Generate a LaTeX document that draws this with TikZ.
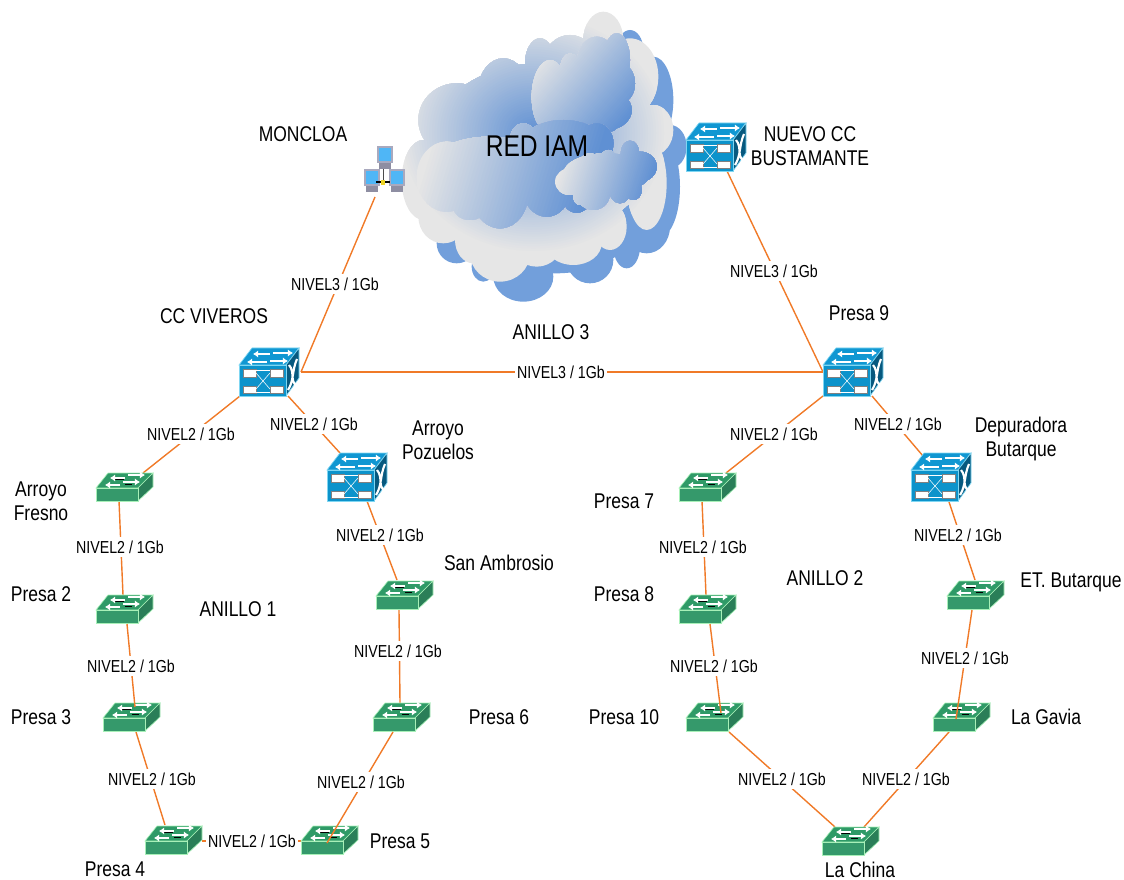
\documentclass[tikz,border=0pt]{standalone}
\usepackage{fontspec}
\setmainfont{Liberation Sans}[FakeStretch=0.82]
\usetikzlibrary{arrows.meta}
\definecolor{link}{HTML}{F07A28}
\definecolor{cshadow}{HTML}{729FDB}
\definecolor{cgray}{HTML}{E6E6E6}
\definecolor{cblue}{HTML}{5F90D3}
\definecolor{btop}{HTML}{1097D2}
\definecolor{bfront}{HTML}{0C93CB}
\definecolor{bside}{HTML}{07597F}
\definecolor{bedge}{HTML}{7FD6F2}
\definecolor{gtop}{HTML}{2F9A67}
\definecolor{gfront}{HTML}{35996B}
\definecolor{gside}{HTML}{2A7E58}
\definecolor{gedge}{HTML}{A8F0B8}
\definecolor{pcframe}{HTML}{A9A9BE}
\definecolor{pcbase}{HTML}{8E8EA2}
\definecolor{pcscreen}{HTML}{4FB6F6}
% #1,#2 = grey end of the gradient, #3 = canvas angle, #4 = length to the blue end
\newcommand{\gradbands}[4]{%
  \begin{scope}[shift={(#1,#2)},rotate=#3]
    \fill[cgray] (-1200,-1200) rectangle (1200,1200);
    \foreach \i in {1,...,50}{
      \pgfmathsetmacro{\pp}{\i*2}
      \pgfmathsetmacro{\xx}{#4/50*\i}
      \fill[cblue!\pp!cgray] (\xx,-1200) rectangle (1600,1200);
    }
  \end{scope}}
\tikzset{
  conn/.style={draw=link,line width=1.05pt},
  lbl/.style={fill=white,inner xsep=1.5pt,inner ysep=2.5pt,font=\fontsize{13}{15}\selectfont},
  devname/.style={inner sep=0pt,align=center,font=\fontsize{16}{18}\selectfont},
  anchorbox/.style={inner sep=0pt,minimum width=20pt,minimum height=20pt},
  warrow/.style={white,line width=1.5pt,-{Latex[length=3.8pt,width=5.4pt]}},
  bluesw/.pic={
    \fill[btop,draw=bedge,line width=.5pt] (-31,-7) -- (-18,-24) -- (29,-24) -- (16,-7) -- cycle;
    \fill[bside,draw=bedge,line width=.5pt] (16,-7) -- (29,-24) -- (29,6) -- (16,24) -- cycle;
    \fill[bfront,draw=bedge,line width=.5pt] (-31,-7) rectangle (16,24);
    \draw[warrow] (0,-18) -- (-17,-18);
    \draw[warrow] (3,-19) -- (23,-19);
    \draw[warrow] (-3,-10) -- (-23,-10);
    \draw[warrow] (0,-11) -- (18,-11);
    \fill[white,draw=black!50,line width=.2pt] (-27,-3) rectangle (-14,5);
    \fill[white,draw=black!50,line width=.2pt] (0,-3) rectangle (13,5);
    \fill[white,draw=black!50,line width=.2pt] (-27,14) rectangle (-14,21);
    \fill[white,draw=black!50,line width=.2pt] (0,14) rectangle (13,21);
    \draw[white,line width=.4pt] (-14,1) -- (0,17) (-14,17) -- (0,1);
    \draw[white,line width=.4pt] (-14,-2) -- (0,-2) (-14,20) -- (0,20);
    \draw[white,line width=1.6pt] (19,-7) .. controls (25,0) and (20,9) .. (26,13) (27,-13) .. controls (22,-2) and (24,9) .. (18,18);
  },
  greensw/.pic={
    \fill[gtop,draw=gedge,line width=.5pt] (-28,1) -- (-16,-14) -- (29,-14) -- (14,1) -- cycle;
    \fill[gside,draw=gedge,line width=.5pt] (14,1) -- (29,-14) -- (29,0) -- (14,14) -- cycle;
    \fill[gfront,draw=gedge,line width=.5pt] (-28,1) rectangle (14,14);
    \draw[black,line width=.4pt] (-9,-7.5) -- (0,-7.5) (1,-2.5) -- (8,-2.5);
    \draw[warrow] (1,-9) -- (-14,-9);
    \draw[warrow] (4,-12) -- (21,-12);
    \draw[warrow] (-4,-2) -- (-19,-2);
    \draw[warrow] (-1,-5) -- (16,-5);
  }
}
\begin{document}
\begin{tikzpicture}[x=0.75pt,y=-0.75pt]
\useasboundingbox (0,0) rectangle (1124,880);

% ---------- cloud (drawn in the zoomed reference grid)
\begin{scope}[x=0.25pt,y=-0.25pt,shift={(292.5pt,0pt)}]
  \fill[cshadow] \foreach \cx/\cy/\rx/\ry in {400/830/90/75,600/780/70/70,710/740/40/65,770/680/70/80,810/560/60/150,840/440/50/65,790/300/60/130,720/150/40/60,280/800/35/45,200/730/60/60,500/500/330/320} {(\cx,\cy) ellipse ({\rx} and {\ry})};
  \begin{scope}
    \clip \foreach \cx/\cy/\rx/\ry in {200/360/115/110,340/270/75/95,450/190/45/75,540/190/80/85,640/120/60/85,720/230/85/115,790/390/60/75,770/550/60/140,660/680/50/70,550/730/85/65,440/720/80/80,330/760/90/85,250/720/55/70,160/650/75/80,100/540/65/120,450/450/340/260} {(\cx,\cy) ellipse ({\rx} and {\ry})};
    \fill[cgray] (0,0) rectangle (930,930);
    \foreach \i in {0,...,49}{
      \pgfmathsetmacro{\pp}{\i*2}
      \pgfmathsetmacro{\kk}{1-\i/50}
      \fill[cblue!\pp!cgray] (430,400) ellipse ({400*\kk} and {360*\kk});
    }
  \end{scope}
  \begin{scope}
    \clip \foreach \cx/\cy/\rx/\ry in {480/290/55/110,540/210/30/50,620/190/60/80,680/180/40/80,690/250/45/60,650/330/75/60,615/370/28/38,660/360/28/35,560/300/100/90} {(\cx,\cy) ellipse ({\rx} and {\ry})};
    \gradbands{450}{170}{-41.2}{319}
  \end{scope}
  \begin{scope}
    \clip \foreach \cx/\cy/\rx/\ry in {170/530/90/105,240/620/50/40,330/580/85/105,470/570/70/80,560/600/40/38,400/420/40/50,520/470/150/110,620/430/50/60,130/550/50/50,300/520/200/110} {(\cx,\cy) ellipse ({\rx} and {\ry})};
    \gradbands{100}{500}{-16.6}{490}
  \end{scope}
  \begin{scope}
    \clip \foreach \cx/\cy/\rx/\ry in {540/545/45/40,600/510/40/50,655/480/25/30,720/460/28/38,750/500/50/45,690/560/35/50,730/570/25/30,610/580/50/50,570/590/20/25,650/520/130/60} {(\cx,\cy) ellipse ({\rx} and {\ry})};
    \gradbands{510}{510}{-17}{272}
  \end{scope}
\end{scope}

% ---------- invisible anchors of the devices
\foreach \n/\x/\y in {vi/270/372,po/358/477,p9/854/372,de/942/477,nc/717/147,af/124/487,p2/124/609,p3/131/717,p4/173/840,p5/329/840,p6/401/717,sa/404/595,p7/707/487,p8/707/609,p10/714/717,lc/850/841,lg/961/717,eb/975/595,mo/383/172}
  \node[anchorbox] (\n) at (\x,\y) {};

% ---------- connectors under the icons
\draw[conn] ([shift={(-8,25)}]mo.center) -- ([shift={(31,0)}]vi.center);
\draw[conn] ([shift={(31,0)}]vi.center) -- ([shift={(-31,0)}]p9.center);
\draw[conn] ([shift={(-30,24)}]vi.center) -- ([shift={(19,-14)}]af.center);
\draw[conn] ([shift={(18,24)}]vi.center) -- ([shift={(-18,-24)}]po.center);
\draw[conn] ([shift={(9,24)}]po.center) -- ([shift={(-7,-15)}]sa.center);
\draw[conn] ([shift={(-5,15)}]sa.center) -- ([shift={(-1,-14)}]p6.center);
\draw[conn] ([shift={(-5,14)}]af.center) -- ([shift={(-1,-14)}]p2.center);
\draw[conn] ([shift={(5,15)}]p3.center) -- ([shift={(-8,-15)}]p4.center);
\draw[conn] ([shift={(29,1)}]p4.center) -- ([shift={(-28,1)}]p5.center);
\draw[conn] ([shift={(-31,0)}]p9.center) -- ([shift={(10,24)}]nc.center);
\draw[conn] ([shift={(-31,24)}]p9.center) -- ([shift={(19,-14)}]p7.center);
\draw[conn] ([shift={(18,24)}]p9.center) -- ([shift={(-19,-21)}]de.center);
\draw[conn] ([shift={(7,25)}]de.center) -- ([shift={(0,-15)}]eb.center);
\draw[conn] ([shift={(-5,14)}]p7.center) -- ([shift={(-1,-14)}]p8.center);
\draw[conn] ([shift={(15,15)}]p10.center) -- ([shift={(-15,-14)}]lc.center);
\draw[conn] ([shift={(-12,15)}]lg.center) -- ([shift={(14,-14)}]lc.center);

% ---------- icons
\foreach \x/\y in {270/372,358/477,854/372,942/477,717/147}
  \pic at (\x,\y) {bluesw};
\foreach \x/\y in {124/487,124/609,131/717,173/840,329/840,401/717,404/595,707/487,707/609,714/717,850/841,961/717,975/595}
  \pic at (\x,\y) {greensw};

% ---------- Moncloa workstation group
\begin{scope}[shift={(383,172)}]
  \draw[black!70,line width=.6pt] (0,-8) -- (0,10);
  \foreach \dx/\dy in {2/-17,-11/6,14/6}{
    \fill[pcbase] (\dx-6,\dy+7) rectangle (\dx+6,\dy+14);
    \fill[pcframe] (\dx-8,\dy-9) rectangle (\dx+8,\dy+8);
    \fill[pcscreen] (\dx-6,\dy-7) rectangle (\dx+6,\dy+6);
  }
  \draw[black,line width=.9pt] (-7,10) -- (7,10);
  \fill[yellow!70!brown] (-2,8) rectangle (2,13);
\end{scope}

% ---------- connectors running over the icons
\draw[conn] ([shift={(-8,15)}]p6.center) -- ([shift={(-2,3)}]p5.center);
\draw[conn] ([shift={(3,15)}]p2.center) -- ([shift={(4,-10)}]p3.center);
\draw[conn] ([shift={(3,15)}]p8.center) -- ([shift={(7,-4)}]p10.center);
\draw[conn] ([shift={(-3,15)}]eb.center) -- ([shift={(-5,2)}]lg.center);

% ---------- link labels
\foreach \i/\t/\x/\y in {a/3/335/284,b/3/774/271,c/3/561/372,d/2/191/434,e/2/314/424,f/2/774/434,g/2/898/424,h/2/120/547,i/2/380/535,j/2/703/547,k/2/958/535,l/2/131/666,m/2/398/651,n/2/714/666,o/2/965/658,q/2/152/779,r/2/361/782,s/2/782/779,t/2/906/779,u/2/252/841}
  \node[lbl] (link\i) at (\x,\y) {NIVEL\t{} / 1Gb};

% ---------- names
\node[font=\fontsize{22.5}{26}\selectfont,inner sep=0pt] (rediam) at (537,146) {RED IAM};
\node[devname] (t1) at (303,134) {MONCLOA};
\node[devname] (t2) at (214,316) {CC VIVEROS};
\node[devname] (t3) at (551,332) {ANILLO 3};
\node[devname] (t4) at (859,313) {Presa 9};
\node[devname] (t5) at (810,146) {NUEVO CC\\BUSTAMANTE};
\node[devname] (t6) at (438,440) {Arroyo\\Pozuelos};
\node[devname] (t7) at (41,501) {Arroyo\\Fresno};
\node[devname] (t8) at (41,594) {Presa 2};
\node[devname] (t9) at (238,609) {ANILLO 1};
\node[devname] (t10) at (499,563) {San Ambrosio};
\node[devname] (t11) at (41,717) {Presa 3};
\node[devname] (t12) at (499,717) {Presa 6};
\node[devname] (t13) at (115,869) {Presa 4};
\node[devname] (t14) at (400,841) {Presa 5};
\node[devname] (t15) at (624,501) {Presa 7};
\node[devname] (t16) at (624,594) {Presa 8};
\node[devname] (t17) at (825,578) {ANILLO 2};
\node[devname] (t18) at (624,717) {Presa 10};
\node[devname] (t19) at (860,870) {La China};
\node[devname] (t20) at (1046,717) {La Gavia};
\node[devname] (t21) at (1071,582) {ET. Butarque};
\node[devname] (t22) at (1021,439) {Depuradora\\Butarque};
\end{tikzpicture}
\end{document}
